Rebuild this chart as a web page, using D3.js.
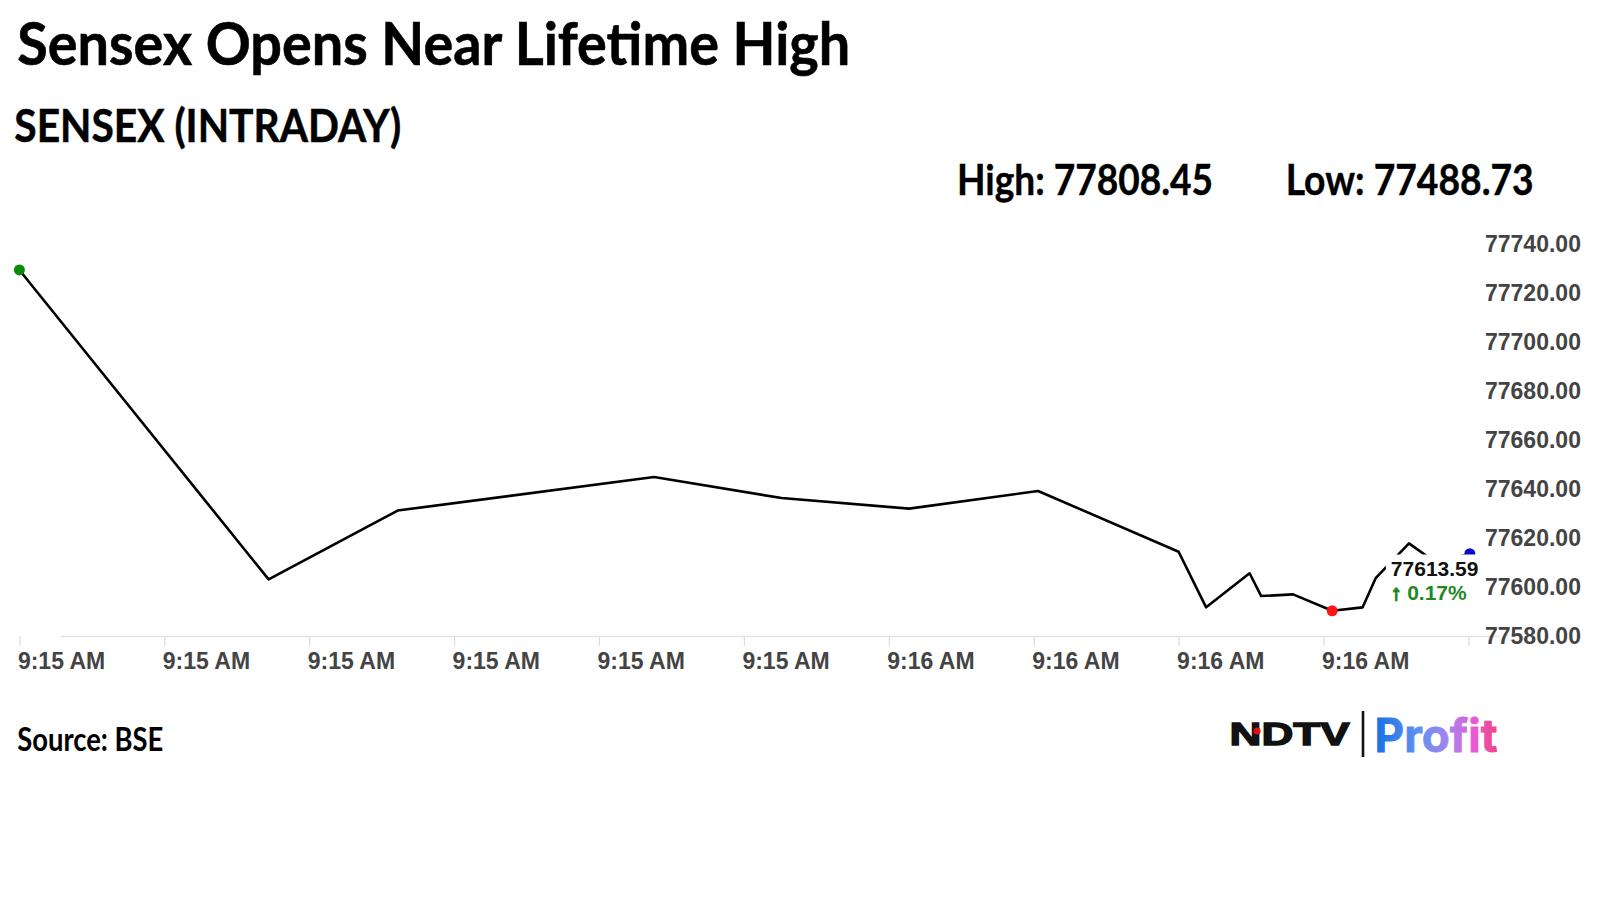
<!DOCTYPE html>
<html><head><meta charset="utf-8">
<script src="https://cdn.jsdelivr.net/npm/d3@7"></script>
<style>html,body{margin:0;padding:0;background:#fff;} svg{display:block}</style>
</head><body>
<svg id="chart" width="1600" height="900"></svg>
<script>
// ---------- data ----------
const titleText = "Sensex Opens Near Lifetime High";
const subtitleText = "SENSEX (INTRADAY)";
const sourceText = "Source: BSE";
const dayHigh = 77808.45;
const dayLow = 77488.73;
const changePct = 0.17;
const times = ["09:15:00.0","09:15:17.2","09:15:26.1","09:15:43.8","09:15:52.6","09:16:01.4",
               "09:16:10.3","09:16:20.0","09:16:21.9","09:16:24.9","09:16:25.7","09:16:27.9",
               "09:16:30.6","09:16:32.7","09:16:33.6","09:16:35.9","09:16:37.8","09:16:40.1"];
const values = [77729.4, 77603.1, 77631.2, 77644.9, 77636.3, 77632.0,
                77639.2, 77614.4, 77591.7, 77605.6, 77596.3, 77597.0,
                77590.3, 77591.7, 77603.6, 77617.8, 77609.8, 77613.59];
const yTickValues = [77580, 77600, 77620, 77640, 77660, 77680, 77700, 77720, 77740];
const xTickTimes = ["09:15:00","09:15:10","09:15:20","09:15:30","09:15:40","09:15:50",
                    "09:16:00","09:16:10","09:16:20","09:16:30","09:16:40"];

// ---------- helpers ----------
function parseT(s){
  const p = s.split(":");
  return new Date(2024, 5, 14, +p[0], +p[1], 0, Math.round(parseFloat(p[2]) * 1000));
}
const svg = d3.select("#chart");
svg.append("rect").attr("width",1600).attr("height",900).attr("fill","#fff");

function fitText(txt, x, baseline, size, width, family, weight, fill){
  return svg.append("text").text(txt)
    .attr("x", x).attr("y", baseline)
    .attr("font-family", family).attr("font-size", size).attr("font-weight", weight)
    .attr("fill", fill)
    .attr("textLength", width).attr("lengthAdjust", "spacingAndGlyphs");
}

// ---------- headings ----------
const headFont = "Lato, 'Open Sans', sans-serif";
fitText(titleText, 17.3, 65.3, 60, 833, headFont, 700, "#000").attr("stroke", "#000").attr("stroke-width", 0.6);
fitText(subtitleText, 14.3, 141.8, 45.6, 387, headFont, 700, "#000").attr("stroke", "#000").attr("stroke-width", 0.5);
fitText("High: " + dayHigh.toFixed(2), 957, 194.9, 41.3, 256, headFont, 700, "#000").attr("stroke", "#000").attr("stroke-width", 0.4);
fitText("Low: " + dayLow.toFixed(2), 1285.7, 194.9, 41.3, 248, headFont, 700, "#000").attr("stroke", "#000").attr("stroke-width", 0.4);
fitText(sourceText, 17.3, 751, 32.7, 146, headFont, 700, "#000");

// ---------- scales ----------
const data = times.map((t, i) => ({t: parseT(t), v: values[i]}));
const x = d3.scaleTime()
  .domain([parseT("09:15:00"), parseT("09:16:40")])
  .range([19.4, 1468.4]);
const y = d3.scaleLinear().domain([77580, 77740]).range([636, 244]);

const axisFont = "'Liberation Sans', Arial, sans-serif";

// baseline
svg.append("line")
  .attr("x1", 61).attr("x2", 1500)
  .attr("y1", y(77580) + 0.5).attr("y2", y(77580) + 0.5)
  .attr("stroke", "#e3e3e3").attr("stroke-width", 1.5);

// x axis
const xTicks = xTickTimes.map(parseT);
const fmt = d3.timeFormat("%-I:%M %p");
const gx = svg.append("g").attr("transform", `translate(0,${y(77580)})`)
  .call(d3.axisBottom(x).tickValues(xTicks).tickSize(10).tickFormat(fmt));
gx.select(".domain").remove();
gx.selectAll(".tick line").attr("stroke", "#dcdcdc").attr("stroke-width", 1.2);
gx.selectAll(".tick text")
  .attr("text-anchor", "start").attr("x", -2).attr("y", 33.2).attr("dy", 0)
  .attr("font-family", axisFont).attr("font-size", 23).attr("font-weight", 700)
  .attr("fill", "#444")
  .style("display", (d, i) => i === xTicks.length - 1 ? "none" : null);

// y axis (right)
const gy = svg.append("g").attr("transform", "translate(1485,0)")
  .call(d3.axisRight(y).tickValues(yTickValues).tickSize(0).tickPadding(0).tickFormat(d3.format(".2f")));
gy.select(".domain").remove();
gy.selectAll(".tick text")
  .attr("text-anchor", "start")
  .attr("font-family", axisFont).attr("font-size", 23).attr("font-weight", 700)
  .attr("fill", "#444");

// ---------- line ----------
const line = d3.line().x(d => x(d.t)).y(d => y(d.v));
svg.append("path").datum(data)
  .attr("d", line).attr("fill", "none")
  .attr("stroke", "#000").attr("stroke-width", 2.6).attr("stroke-linejoin", "round");

// markers
const first = data[0];
const last = data[data.length - 1];
const minPt = data.reduce((a, b) => b.v < a.v ? b : a);
svg.append("circle").attr("cx", x(first.t)).attr("cy", y(first.v)).attr("r", 5.5).attr("fill", "#0a8a0a");
svg.append("circle").attr("cx", x(minPt.t)).attr("cy", y(minPt.v)).attr("r", 5.5).attr("fill", "#ff1414");
svg.append("circle").attr("cx", x(last.t)).attr("cy", y(last.v)).attr("r", 5.5).attr("fill", "#0a0ac8");

// last value label
const lx = x(last.t), ly = y(last.v);
svg.append("rect").attr("x", lx - 84).attr("y", ly + 0.8).attr("width", 96).attr("height", 48).attr("fill", "#fff");
svg.append("text").text(last.v.toFixed(2))
  .attr("x", lx - 79).attr("y", ly + 22.5)
  .attr("font-family", axisFont).attr("font-size", 21).attr("font-weight", 700).attr("fill", "#111");
const chg = svg.append("text")
  .attr("x", lx - 79).attr("y", ly + 45.8)
  .attr("font-family", axisFont).attr("font-size", 21).attr("font-weight", 700).attr("fill", "#1f8a1f");
chg.append("tspan").text("\u2191").attr("stroke", "#1f8a1f").attr("stroke-width", 1.6);
chg.append("tspan").text(" " + changePct.toFixed(2) + "%");

// ---------- logo ----------
fitText("NDTV", 1229.6, 745, 31, 120, "'Liberation Sans', Arial, sans-serif", 700, "#111")
  .attr("stroke", "#111").attr("stroke-width", 1.3);
svg.append("circle").attr("cx", 1257).attr("cy", 731).attr("r", 3.6).attr("fill", "#e01010");
svg.append("line").attr("x1", 1363).attr("x2", 1363).attr("y1", 711).attr("y2", 757)
  .attr("stroke", "#111").attr("stroke-width", 2.6);
const defs = svg.append("defs");
const grad = defs.append("linearGradient").attr("id", "profitGrad")
  .attr("gradientUnits", "userSpaceOnUse").attr("x1", 1374).attr("x2", 1498).attr("y1", 0).attr("y2", 0);
[["0%", "#1470e6"], ["35%", "#5f90ef"], ["60%", "#a585f0"], ["82%", "#ea58d0"], ["100%", "#f2437e"]]
  .forEach(s => grad.append("stop").attr("offset", s[0]).attr("stop-color", s[1]));
fitText("Profit", 1374.5, 752, 46, 123, "Inter, Lato, sans-serif", 700, "url(#profitGrad)")
  .attr("stroke", "url(#profitGrad)").attr("stroke-width", 0.8);
</script>
</body></html>
